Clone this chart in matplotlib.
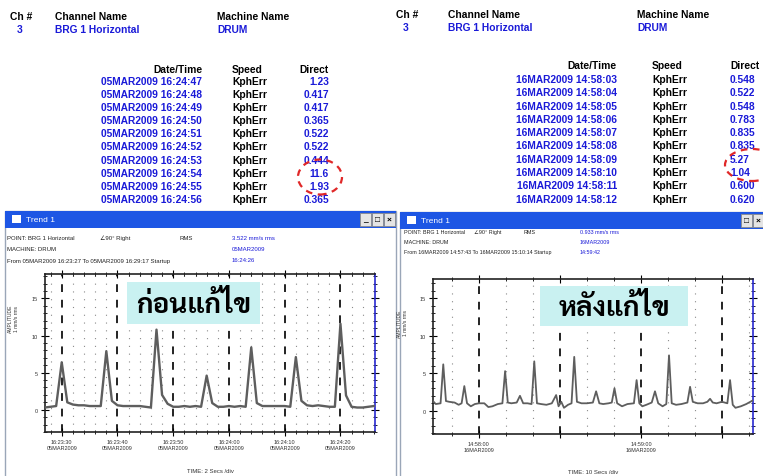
import matplotlib
matplotlib.use('Agg')
import matplotlib.pyplot as plt
import matplotlib.dates as mdates
from matplotlib.patches import Rectangle, Ellipse
from matplotlib.ticker import MultipleLocator, FuncFormatter
from datetime import datetime, timedelta

W, H = 763, 477

# ── data ─────────────────────────────────────────
ch_no = '3'
channel_name = 'BRG 1 Horizontal'
machine_name = 'DRUM'

before_times = ['05MAR2009 16:24:47', '05MAR2009 16:24:48', '05MAR2009 16:24:49',
                '05MAR2009 16:24:50', '05MAR2009 16:24:51', '05MAR2009 16:24:52',
                '05MAR2009 16:24:53', '05MAR2009 16:24:54', '05MAR2009 16:24:55',
                '05MAR2009 16:24:56']
before_direct = ['1.23', '0.417', '0.417', '0.365', '0.522', '0.522', '0.444', '11.6', '1.93', '0.365']

after_times = ['16MAR2009 14:58:03', '16MAR2009 14:58:04', '16MAR2009 14:58:05',
               '16MAR2009 14:58:06', '16MAR2009 14:58:07', '16MAR2009 14:58:08',
               '16MAR2009 14:58:09', '16MAR2009 14:58:10', '16MAR2009 14:58:11',
               '16MAR2009 14:58:12']
after_direct = ['0.548', '0.522', '0.548', '0.783', '0.835', '0.835', '5.27', '1.04', '0.600', '0.620']

# trend ก่อนแก้ไข : 1 sample / s from 16:23:27
before_start = datetime(2009, 3, 5, 16, 23, 27)
before_amp = [0.3, 0.4, 0.5, 6.4, 1.0, 0.7, 0.6, 0.6, 0.5, 0.5,
              0.5, 7.9, 1.2, 0.6, 0.5, 0.5, 0.5, 0.5, 0.4, 0.3,
              10.8, 2.0, 0.8, 0.4, 0.4, 0.5, 0.4, 0.5, 0.4, 4.6,
              0.9, 0.4, 0.4, 0.5, 0.4, 0.5, 0.4, 8.4, 0.9, 0.5,
              0.5, 0.5, 0.5, 0.5, 0.4, 7.1, 1.2, 0.6, 0.5, 0.6,
              0.5, 0.4, 0.4, 11.6, 1.93, 0.4, 0.3, 0.3, 0.4, 0.5]

# trend หลังแก้ไข : seconds from 14:57:43
after_start = datetime(2009, 3, 16, 14, 57, 43)
after_sec = [0, 1, 2.8, 3.8, 4.8, 6, 8, 9.5, 10.6, 11.6, 12.6, 14, 15.5, 17, 19, 20.5,
             22, 24, 25.7, 26.7, 27.7, 29, 31, 32.2, 33.4, 35, 36.5, 37.5, 38.5, 40,
             42, 44, 45.6, 46.5, 47.5, 48.5, 50, 51.3, 52.3, 53.3, 55, 57, 59.2, 60.4,
             61.6, 63, 65, 66.2, 67.2, 68.2, 70, 72, 74.4, 75.4, 76.4, 77.5, 79, 81,
             82.2, 83.4, 85, 86.4, 87.4, 88.4, 90, 92, 94.2, 95.2, 96.2, 98, 100, 101.6,
             102.6, 103.6, 105, 107, 109, 110, 111, 112, 114, 116, 118.5]
after_amp = [1.3, 0.9, 1.0, 6.2, 1.3, 1.2, 1.1, 0.8, 1.0, 3.3, 1.0, 0.6, 0.9, 1.0, 1.0, 0.5,
             0.6, 0.9, 1.0, 5.3, 1.1, 1.0, 1.1, 2.0, 1.0, 1.0, 0.9, 6.6, 1.0, 0.9,
             0.8, 1.0, 2.1, 0.6, 1.2, 0.4, 0.8, 1.0, 7.2, 1.2, 1.0, 1.0, 1.1, 2.6,
             1.0, 0.9, 1.0, 1.1, 3.0, 1.0, 0.6, 0.9, 1.0, 4.1, 1.0, 0.6, 0.8, 1.1,
             2.6, 1.0, 0.6, 0.9, 7.4, 1.0, 0.8, 0.9, 1.1, 3.2, 1.2, 1.0, 1.0, 1.2,
             1.6, 1.1, 1.0, 1.2, 1.0, 4.1, 0.8, 0.4, 0.6, 0.9, 1.4]

# ── figure ───────────────────────────────────────
thai_fam = ['Sarabun', 'Niramit', 'Noto Sans Thai', 'DejaVu Sans']
plt.rcParams['font.family'] = ['Liberation Sans', 'DejaVu Sans']

fig = plt.figure(figsize=(W / 100, H / 100), dpi=100)
fig.patch.set_facecolor('white')

BLUE = '#1a1ad8'


def txt(x, y, s, **kw):
    kw.setdefault('va', 'center')
    return fig.text(x / W, 1 - y / H, s, **kw)


def rect(x0, y0, x1, y1, **kw):
    r = Rectangle((x0 / W, 1 - y1 / H), (x1 - x0) / W, (y1 - y0) / H,
                  transform=fig.transFigure, **kw)
    fig.add_artist(r)
    return r


# ── top tables ───────────────────────────────────
def table(col_ch, col_name, col_mach, y_head, date_r, speed_x, val_x, val_ha,
          y_hdr, y_row0, step, times, vals):
    fs = 7.4
    txt(col_ch, y_head, 'Ch #', fontsize=fs, fontweight='bold')
    txt(col_name, y_head, 'Channel Name', fontsize=fs, fontweight='bold')
    txt(col_mach, y_head, 'Machine Name', fontsize=fs, fontweight='bold')
    txt(col_ch + 10, y_head + 13, ch_no, fontsize=fs, fontweight='bold', color=BLUE, ha='center')
    txt(col_name, y_head + 13, channel_name, fontsize=fs, fontweight='bold', color=BLUE)
    txt(col_mach, y_head + 13, machine_name, fontsize=fs, fontweight='bold', color=BLUE)
    txt(date_r, y_hdr, 'Date/Time', fontsize=fs, fontweight='bold', ha='right')
    txt(speed_x, y_hdr, 'Speed', fontsize=fs, fontweight='bold')
    txt(val_x, y_hdr, 'Direct', fontsize=fs, fontweight='bold', ha=val_ha)
    for i, (t, v) in enumerate(zip(times, vals)):
        y = y_row0 + i * step
        txt(date_r, y, t, fontsize=fs, fontweight='bold', color=BLUE, ha='right')
        txt(speed_x, y, 'KphErr', fontsize=fs, fontweight='bold')
        txt(val_x, y, v, fontsize=fs, fontweight='bold', color=BLUE, ha=val_ha)


table(10, 55, 217, 17, 202, 232, 329, 'right', 70, 82, 13.1, before_times, before_direct)
table(396, 448, 637, 15, 617, 652, 730, 'left', 66, 80, 13.3, after_times, after_direct)

fig.add_artist(Ellipse((320 / W, 1 - 178 / H), 44 / W, 35 / H, transform=fig.transFigure,
                       fill=False, ec='#e02828', lw=1.6, ls=(0, (3, 2.5)), zorder=6))
fig.add_artist(Ellipse((752 / W, 1 - 166 / H), 54 / W, 32 / H, transform=fig.transFigure,
                       fill=False, ec='#e02828', lw=1.6, ls=(0, (3, 2.5)), zorder=6))


# ── trend windows ────────────────────────────────
def window(x0, x1, y0, buttons_x):
    rect(x0, y0, x1, H + 5, fc='white', ec='#9aa6b8', lw=1.0, zorder=0.2)
    rect(x0, y0, x1, y0 + 17, fc='#1d56e4', ec='none', zorder=0.3)
    rect(x0 + 7, y0 + 4, x0 + 16, y0 + 12, fc='white', ec='none', zorder=0.4)
    txt(x0 + 21, y0 + 8.5, 'Trend 1', fontsize=6, color='white', zorder=0.5)
    for bx, sym in buttons_x:
        rect(bx, y0 + 2, bx + 11, y0 + 15, fc='#e4e4e4', ec='#8a8a8a', lw=0.6, zorder=0.4)
        txt(bx + 5.5, y0 + 8.5, sym, fontsize=6, fontweight='bold', ha='center', zorder=0.5)


window(5, 396, 212, [(360, '_'), (372, '□'), (384, '×')])
window(400, 770, 213, [(741, '□'), (753, '×')])


def info(x0, xs, y0, point, rms, date, from_txt, cursor, fs, dy):
    txt(x0, y0, point, fontsize=fs, color='#222222')
    txt(xs[0], y0, '∠90° Right', fontsize=fs, color='#222222')
    txt(xs[1], y0, 'RMS', fontsize=fs, color='#222222')
    txt(xs[2], y0, rms, fontsize=fs, color=BLUE)
    txt(x0, y0 + dy, 'MACHINE: DRUM', fontsize=fs, color='#222222')
    txt(xs[2], y0 + dy, date, fontsize=fs, color=BLUE)
    txt(x0, y0 + 2 * dy, from_txt, fontsize=fs, color='#222222')
    txt(xs[2], y0 + 2 * dy, cursor, fontsize=fs, color=BLUE)


info(7, (100, 180, 232), 238, 'POINT: BRG 1 Horizontal', '3.522 mm/s rms', '05MAR2009',
     'From 05MAR2009 16:23:27 To 05MAR2009 16:29:17 Startup', '16:24:26', 4.3, 11.5)
info(404, (474, 523, 580), 233, 'POINT: BRG 1 Horizontal', '0.933 mm/s rms', '16MAR2009',
     'From 16MAR2009 14:57:43 To 16MAR2009 15:10:14 Startup', '14:59:42', 3.9, 10)


def tick_fmt(label_secs):
    def f(x, pos):
        d = mdates.num2date(x)
        if d.second not in label_secs:
            return ''
        return d.strftime('%H:%M:%S') + '\n' + d.strftime('%d%b%Y').upper()
    return f


def trend(x0, y0, x1, y1, times, amp, t_end, ylim, major_s, minor_s, label_s, lw, time_lbl):
    ax = fig.add_axes([x0 / W, 1 - y1 / H, (x1 - x0) / W, (y1 - y0) / H], zorder=1)
    ax.plot(times, amp, color='#5e5e5e', lw=lw, zorder=3)
    ax.set_xlim(times[0], t_end)
    ax.set_ylim(*ylim)
    ax.xaxis.set_major_locator(mdates.SecondLocator(bysecond=major_s))
    ax.xaxis.set_minor_locator(mdates.SecondLocator(bysecond=minor_s))
    ax.xaxis.set_major_formatter(FuncFormatter(tick_fmt(label_s)))
    ax.yaxis.set_major_locator(MultipleLocator(5))
    ax.yaxis.set_minor_locator(MultipleLocator(1))
    ax.grid(which='major', axis='x', color='#222222', ls=(0, (4, 4)), lw=1.4)
    ax.grid(which='minor', axis='x', color='#8a8a8a', ls=(0, (1, 6)), lw=0.8)
    ax.tick_params(axis='both', which='major', direction='inout', length=6, width=0.8,
                   labelsize=4, top=True, labelcolor='#333333', pad=2)
    ax.tick_params(axis='both', which='minor', direction='inout', length=3, width=0.6, top=True)
    ax.tick_params(axis='y', which='both', right=True)
    for s in ['left', 'bottom', 'top']:
        ax.spines[s].set_color('#222222')
        ax.spines[s].set_linewidth(1.2)
    ax.spines['right'].set_color('#2a2ad0')
    ax.spines['right'].set_linewidth(1.2)
    ax.text(-0.095, 0.72, 'AMPLITUDE\n1 mm/s rms', transform=ax.transAxes, rotation=90,
            fontsize=3.6, ha='center', va='center', color='#333333')
    ax.text(0.5, -0.245, time_lbl, transform=ax.transAxes, fontsize=4.3,
            ha='center', va='center', color='#333333')
    return ax


b_times = [before_start + timedelta(seconds=i) for i in range(len(before_amp))]
trend(45, 275, 375, 433, b_times, before_amp, before_start + timedelta(seconds=59.2),
      (-3, 18.3), list(range(0, 60, 10)), list(range(0, 60, 2)), list(range(0, 60, 10)),
      1.7, 'TIME: 2 Secs /div')

a_times = [after_start + timedelta(seconds=s) for s in after_sec]
trend(433, 280, 753, 435, a_times, after_amp, after_start + timedelta(seconds=118.5),
      (-3.1, 17.6), [0, 30], list(range(0, 60, 10)), [0], 1.3, 'TIME: 10 Secs /div')

# ── Thai labels ──────────────────────────────────
for (bx0, by0, bx1, by1), s in [((127, 283, 260, 325), 'ก่อนแก้ไข'),
                                ((540, 287, 688, 327), 'หลังแก้ไข')]:
    rect(bx0, by0, bx1, by1, fc='#c9f1f1', ec='none', zorder=5)
    txt((bx0 + bx1) / 2, (by0 + by1) / 2 + 1, s, fontsize=20, fontweight='bold',
        ha='center', family=thai_fam, zorder=6)

fig.savefig('out.png', dpi=100)
